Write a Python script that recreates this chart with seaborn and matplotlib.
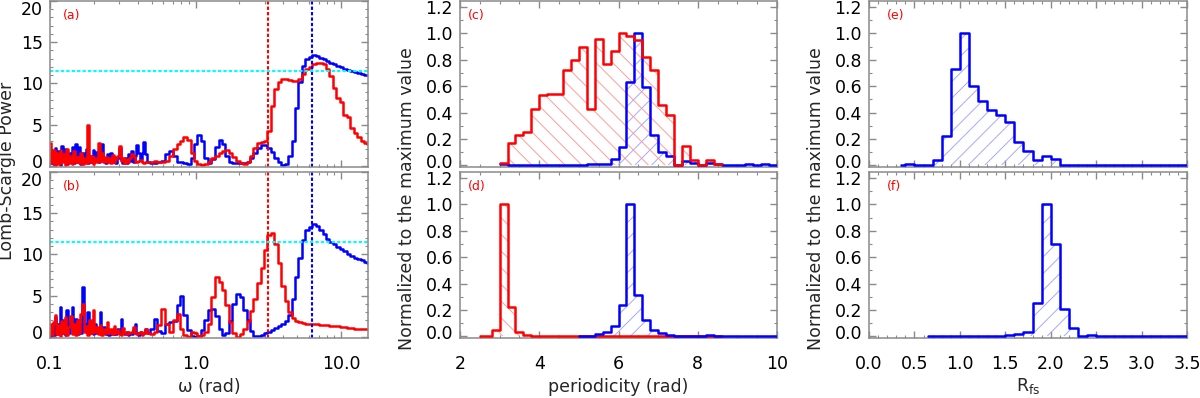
import numpy as np
import matplotlib
matplotlib.use("Agg")
import matplotlib.pyplot as plt
import seaborn as sns
from matplotlib.ticker import (MultipleLocator, FixedLocator, FixedFormatter,
                               LogLocator, NullFormatter, FormatStrFormatter)
from matplotlib.transforms import ScaledTranslation

# ---------------------------------------------------------------- data
omega = [0.100, 0.103, 0.106, 0.109, 0.112, 0.115, 0.118, 0.121, 0.124, 0.128,
         0.131, 0.135, 0.139, 0.143, 0.147, 0.151, 0.155, 0.159, 0.164, 0.168,
         0.173, 0.178, 0.183, 0.188, 0.193, 0.199, 0.204, 0.210, 0.216, 0.222,
         0.228, 0.235, 0.241, 0.248, 0.255, 0.262, 0.270, 0.277, 0.285, 0.293,
         0.301, 0.310, 0.319, 0.328, 0.337, 0.346, 0.356, 0.366, 0.376, 0.387,
         0.398, 0.409, 0.420, 0.432, 0.444, 0.457,
         0.47, 0.50, 0.53, 0.56, 0.60, 0.64, 0.68, 0.72, 0.76, 0.80,
         0.85, 0.90, 0.95, 1.00, 1.06, 1.12, 1.18, 1.25, 1.32, 1.40,
         1.48, 1.56, 1.65, 1.74, 1.84, 1.95, 2.06, 2.18, 2.30, 2.43,
         2.57, 2.72, 2.87, 3.03, 3.20, 3.38, 3.57, 3.77, 3.98, 4.20,
         4.44, 4.69, 4.95, 5.23, 5.52, 5.83, 6.16, 6.50, 6.87, 7.25,
         7.66, 8.09, 8.54, 9.02, 9.53, 10.06, 10.63, 11.22, 11.85, 12.52,
         13.22, 13.96, 14.75, 15.3]

power_a_blue = [0.3, 1.6, 0.2, 2.2, 0.4, 1.8, 0.1, 2.4, 0.6, 2.0,
                0.2, 1.6, 0.8, 2.3, 0.3, 2.7, 0.5, 2.3, 0.2, 1.5,
                0.6, 2.0, 0.3, 1.2, 0.4, 1.9, 0.9, 1.7, 0.5, 1.4,
                2.6, 0.6, 0.3, 1.4, 0.8, 1.6, 0.5, 1.1, 0.3, 1.0,
                2.2, 0.7, 0.3, 1.0, 0.3, 1.4, 0.6, 1.8, 0.5, 1.2,
                2.5, 1.6, 0.8, 1.6, 2.9, 1.4,
                0.5, 0.3, 0.3, 0.4, 0.6, 1.4, 1.8, 1.2, 0.5, 0.5,
                0.3, 0.2, 1.0, 2.6, 3.7, 3.0, 1.0, 0.3, 0.8, 2.3,
                3.15, 2.6, 1.2, 0.5, 0.35, 0.3, 0.3, 0.35, 0.5, 0.9,
                1.5, 2.2, 2.5, 2.55, 2.2, 1.7, 1.0, 0.5, 0.15, 0.2,
                1.2, 3.0, 7.0, 10.2, 12.1, 13.0, 13.25, 13.4, 13.3, 13.1,
                12.9, 12.7, 12.5, 12.3, 12.1, 12.0, 11.8, 11.6, 11.5, 11.4,
                11.3, 11.1, 11.0, 11.0]

power_a_red = [2.8, 0.3, 1.9, 0.1, 1.5, 0.2, 1.9, 0.4, 1.4, 0.1,
               2.0, 0.3, 1.2, 0.2, 1.8, 0.4, 1.1, 0.3, 1.6, 0.2,
               1.0, 0.3, 5.0, 0.4, 1.2, 0.2, 1.0, 0.5, 2.8, 0.6,
               1.5, 0.4, 1.1, 0.5, 0.9, 0.3, 1.3, 0.4, 0.8, 1.2,
               2.4, 0.6, 1.0, 0.3, 0.8, 0.5, 0.9, 1.4, 1.2, 0.5,
               0.4, 0.6, 0.7, 0.4, 0.3, 0.5,
               0.4, 0.5, 0.6, 0.4, 0.5, 0.6, 1.2, 2.0, 2.6, 3.0,
               3.5, 3.1, 1.6, 0.6, 0.2, 0.15, 0.2, 0.5, 0.9, 1.2,
               1.6, 1.85, 1.9, 1.6, 1.1, 0.6, 0.35, 0.2, 0.5, 1.2,
               2.1, 2.8, 2.9, 3.0, 4.2, 7.3, 9.3, 10.2, 10.5, 10.5,
               10.4, 10.3, 10.3, 10.5, 11.1, 11.7, 12.0, 12.3, 12.5, 12.5,
               12.3, 11.7, 10.9, 9.4, 8.2, 7.7, 6.2, 5.9, 4.6, 4.0,
               3.5, 3.0, 2.8, 2.7]

power_b_blue = [0.1, 1.2, 0.2, 2.4, 0.3, 1.6, 3.6, 0.4, 2.0, 0.2,
                3.2, 0.5, 1.8, 3.6, 0.6, 2.2, 0.3, 1.5, 0.4, 6.1,
                0.8, 1.6, 3.0, 0.5, 1.2, 0.3, 1.6, 0.4, 1.0, 3.0,
                0.5, 1.2, 0.3, 0.9, 0.2, 0.8, 0.3, 0.6, 0.3, 1.0,
                0.4, 2.2, 0.5, 0.3, 0.6, 0.2, 0.5, 0.3, 1.0, 1.6,
                0.5, 0.2, 0.6, 0.3, 0.5, 1.0,
                0.4, 1.0, 2.1, 0.7, 0.4, 1.5, 1.8, 1.9, 3.8, 4.9,
                2.6, 0.8, 0.1, 0.0, 0.1, 0.8, 2.0, 3.2, 3.4, 2.5,
                1.0, 0.2, 0.4, 1.9, 4.0, 5.2, 4.8, 3.3, 2.0, 0.7,
                0.1, 0.05, 0.2, 0.4, 0.6, 0.85, 1.05, 1.25, 1.5, 1.9,
                2.7, 4.6, 7.2, 9.6, 11.7, 13.0, 13.3, 13.7, 13.4, 12.9,
                12.5, 11.9, 11.5, 11.2, 10.9, 10.6, 10.4, 10.1, 9.8, 9.6,
                9.4, 9.3, 9.1, 9.0]

power_b_red = [1.5, 0.2, 1.8, 2.7, 0.3, 1.4, 0.1, 1.9, 0.4, 2.4,
               0.2, 1.2, 2.5, 0.3, 1.6, 0.2, 2.0, 0.5, 2.8, 4.0,
               0.6, 1.3, 0.2, 2.0, 0.4, 3.2, 0.6, 1.2, 0.3, 1.4,
               0.2, 0.9, 0.5, 1.8, 0.4, 1.0, 0.3, 1.3, 0.4, 0.8,
               0.3, 0.2, 1.1, 0.4, 0.3, 0.6, 0.4, 0.6, 1.2, 0.5,
               0.3, 0.4, 0.6, 0.2, 0.5, 1.0,
               0.4, 0.3, 0.6, 1.4, 3.4, 1.6, 0.6, 2.0, 2.8, 1.0,
               0.2, 0.0, 0.6, 0.5, 0.05, 0.2, 0.6, 1.5, 4.8, 7.2,
               6.6, 5.7, 3.9, 1.8, 0.4, 0.0, 0.3, 0.9, 1.9, 3.1,
               4.6, 6.5, 8.4, 10.5, 12.3, 12.6, 11.3, 9.0, 6.2, 4.3,
               3.0, 2.3, 1.9, 1.8, 1.7, 1.6, 1.6, 1.55, 1.5, 1.45,
               1.4, 1.4, 1.35, 1.3, 1.25, 1.2, 1.15, 1.1, 1.05, 1.0,
               0.97, 0.93, 0.9, 0.9]

omega_mark_red = np.pi
omega_mark_blue = 2 * np.pi
power_threshold = 11.5

# periodicity histograms (bin edges and normalised heights)
period_edges = [2.5, 2.8, 3.0, 3.2, 3.4, 3.6, 3.8, 4.0, 4.2, 4.4, 4.6, 4.8,
                5.0, 5.2, 5.4, 5.6, 5.8, 6.0, 6.2, 6.4, 6.6, 6.8, 7.0, 7.2,
                7.4, 7.6, 7.8, 8.0, 8.2, 8.4, 8.6, 8.8, 9.0, 9.2, 9.4, 9.6,
                9.8, 10.0]

c_red_edges = period_edges[2:31]
c_red_heights = [0.018, 0.17, 0.23, 0.25, 0.43, 0.53, 0.54, 0.54, 0.72, 0.80,
                 0.90, 0.43, 0.96, 0.77, 0.87, 1.00, 0.98, 0.95, 0.82, 0.72,
                 0.46, 0.38, 0.0, 0.15, 0.04, 0.0, 0.04, 0.01]

c_blue_edges = period_edges[2:]
c_blue_heights = [0.013, 0.002, 0.002, 0.002, 0.004, 0.003, 0.002, 0.002, 0.002, 0.002,
                  0.003, 0.008, 0.008, 0.013, 0.05, 0.14, 0.63, 1.0, 0.59, 0.23,
                  0.10, 0.07, 0.002, 0.03, 0.02, 0.002, 0.02, 0.01, 0.002, 0.002,
                  0.002, 0.01, 0.002, 0.01, 0.002]

d_red_edges = period_edges[0:31]
d_red_heights = [0.003, 0.05, 1.0, 0.22, 0.03, 0.01, 0.005, 0.001, 0.001, 0.001,
                 0.001, 0.001, 0.002, 0.002, 0.001, 0.001, 0.001, 0.002, 0.003, 0.002,
                 0.003, 0.002, 0.001, 0.001, 0.002, 0.001, 0.001, 0.002, 0.001, 0.001]

d_blue_edges = period_edges[12:]
d_blue_heights = [0.002, 0.004, 0.02, 0.03, 0.08, 0.24, 1.0, 0.31, 0.125, 0.045,
                  0.025, 0.01, 0.003, 0.002, 0.002, 0.002, 0.01, 0.002, 0.001, 0.003,
                  0.001, 0.001, 0.001, 0.001, 0.001]

# R_fs histograms
e_edges = [0.35, 0.4, 0.5, 0.6, 0.7, 0.8, 0.9, 1.0, 1.1, 1.2, 1.3, 1.4, 1.5,
           1.6, 1.7, 1.8, 1.9, 2.0, 2.1, 2.2, 2.3, 2.4, 2.5, 2.6, 2.7, 2.8,
           2.9, 3.0, 3.1, 3.2, 3.3, 3.4, 3.5]
e_heights = [0.003, 0.012, 0.006, 0.006, 0.04, 0.22, 0.73, 1.0, 0.60, 0.49,
             0.42, 0.385, 0.33, 0.18, 0.11, 0.04, 0.075, 0.045, 0.003, 0.002,
             0.002, 0.002, 0.002, 0.002, 0.002, 0.002, 0.002, 0.006, 0.006, 0.002,
             0.002, 0.006]

f_edges = [0.65, 0.7, 0.8, 0.9, 1.0, 1.1, 1.2, 1.3, 1.4, 1.5, 1.6, 1.7, 1.8,
           1.9, 2.0, 2.1, 2.2, 2.3, 2.4, 2.5, 2.6, 2.7, 2.8, 2.9, 3.0, 3.1,
           3.2, 3.3, 3.4, 3.5]
f_heights = [0.002, 0.002, 0.002, 0.002, 0.002, 0.002, 0.002, 0.002, 0.005, 0.008,
             0.015, 0.03, 0.25, 1.0, 0.70, 0.21, 0.065, 0.005, 0.01, 0.005,
             0.005, 0.002, 0.002, 0.001, 0.001, 0.001, 0.001, 0.001, 0.001]

log_ticks = [0.1, 1.0, 10.0]
log_tick_labels = ["0.1", "1.0", "10.0"]
power_ticks = [0, 5, 10, 15, 20]
norm_ticks = [0.0, 0.2, 0.4, 0.6, 0.8, 1.0, 1.2]

# ---------------------------------------------------------------- style
sns.set_theme(style="ticks")
plt.rcParams["font.family"] = ["DejaVu Sans"]
plt.rcParams["hatch.linewidth"] = 0.7
plt.rcParams["axes.facecolor"] = "white"

RED = "#ff0000"
BLUE = "#0000ff"
CYAN = "#00ffff"
RED_HATCH = "#ff9c9c"
BLUE_HATCH = "#a8a8ff"
SPINE = "#8a8a8a"
LW = 1.8
FS = 12.5

W, H = 1200, 398
fig = plt.figure(figsize=(12, 3.98), dpi=100)


def add_ax(x0, x1, y0, y1):
    return fig.add_axes([x0 / W, 1 - y1 / H, (x1 - x0) / W, (y1 - y0) / H])


cols = [(50, 368), (460, 777), (869, 1187)]
rows = [(1, 167), (172, 338)]
axes = {}
for name, (c, r) in zip("abcdef", [(0, 0), (0, 1), (1, 0), (1, 1), (2, 0), (2, 1)]):
    axes[name] = add_ax(cols[c][0], cols[c][1], rows[r][0], rows[r][1])


def style(ax):
    for s in ax.spines.values():
        s.set_color(SPINE)
        s.set_linewidth(1.1)
    ax.tick_params(which="both", direction="in", top=True, right=True,
                   color=SPINE, labelsize=FS, labelcolor="black")
    ax.tick_params(which="major", length=5, width=1.0)
    ax.tick_params(which="minor", length=2.5, width=0.8)
    ax.tick_params(axis="x", pad=12)
    ax.tick_params(axis="y", pad=5)
    ax.set_xlabel("")
    ax.set_ylabel("")


def shift_end_labels(ax, up_bottom, down_top):
    ticks = ax.yaxis.get_major_ticks()
    lab0 = ticks[0].label1
    lab0.set_transform(lab0.get_transform() +
                       ScaledTranslation(0, up_bottom / 100, fig.dpi_scale_trans))
    lab1 = ticks[-1].label1
    lab1.set_transform(lab1.get_transform() +
                       ScaledTranslation(0, -down_top / 100, fig.dpi_scale_trans))


# ---------------------------------------------------------------- periodograms
for name, pb, pr in [("a", power_a_blue, power_a_red), ("b", power_b_blue, power_b_red)]:
    ax = axes[name]
    ax.set_xscale("log")
    sns.lineplot(x=omega, y=pb, ax=ax, color=BLUE, linewidth=LW,
                 drawstyle="steps-mid", estimator=None, errorbar=None)
    sns.lineplot(x=omega, y=pr, ax=ax, color=RED, linewidth=LW,
                 drawstyle="steps-mid", estimator=None, errorbar=None)
    ax.axvline(omega_mark_red, color=RED, lw=1.5, ls=(0, (1.6, 1.0)))
    ax.axvline(omega_mark_blue, color=BLUE, lw=1.5, ls=(0, (1.6, 1.0)))
    ax.axhline(power_threshold, color=CYAN, lw=1.5, ls=(0, (1.6, 1.0)))
    ax.set_xlim(0.1, 15.3)
    ax.set_ylim(-0.15, 20)
    ax.xaxis.set_major_locator(FixedLocator(log_ticks))
    ax.xaxis.set_minor_locator(LogLocator(base=10, subs=np.arange(2, 10)))
    ax.xaxis.set_minor_formatter(NullFormatter())
    ax.yaxis.set_major_locator(FixedLocator(power_ticks))
    ax.yaxis.set_minor_locator(MultipleLocator(1))
    style(ax)
    if name == "b":
        ax.xaxis.set_major_formatter(FixedFormatter(log_tick_labels))
    else:
        ax.xaxis.set_major_formatter(NullFormatter())
    shift_end_labels(ax, 5, 7)


# ---------------------------------------------------------------- histograms
def hist(ax, edges, heights, color, hatch_color, hatch):
    edges = np.asarray(edges, float)
    heights = np.asarray(heights, float)
    centers = 0.5 * (edges[:-1] + edges[1:])
    ax.fill_between(edges, np.append(heights, heights[-1]), step="post",
                    facecolor="none", edgecolor=hatch_color, hatch=hatch,
                    linewidth=0, zorder=1)
    sns.histplot(x=centers, weights=heights, bins=list(edges), element="step",
                 fill=False, color=color, linewidth=LW, ax=ax, zorder=3)


hist(axes["c"], c_blue_edges, c_blue_heights, BLUE, BLUE_HATCH, "//")
hist(axes["c"], c_red_edges, c_red_heights, RED, RED_HATCH, "\\\\")
hist(axes["d"], d_red_edges, d_red_heights, RED, RED_HATCH, "\\\\")
hist(axes["d"], d_blue_edges, d_blue_heights, BLUE, BLUE_HATCH, "//")
hist(axes["e"], e_edges, e_heights, BLUE, BLUE_HATCH, "//")
hist(axes["f"], f_edges, f_heights, BLUE, BLUE_HATCH, "//")

for name in "cdef":
    ax = axes[name]
    ax.set_ylim(-0.012, 1.245)
    ax.yaxis.set_major_locator(FixedLocator(norm_ticks))
    ax.yaxis.set_minor_locator(MultipleLocator(0.1))
    ax.yaxis.set_major_formatter(FormatStrFormatter("%.1f"))
    if name in "cd":
        ax.set_xlim(2, 10)
        ax.xaxis.set_major_locator(MultipleLocator(2))
        ax.xaxis.set_minor_locator(MultipleLocator(0.5))
        ax.xaxis.set_major_formatter(FormatStrFormatter("%d"))
    else:
        ax.set_xlim(0, 3.5)
        ax.xaxis.set_major_locator(MultipleLocator(0.5))
        ax.xaxis.set_minor_locator(MultipleLocator(0.1))
        ax.xaxis.set_major_formatter(FormatStrFormatter("%.1f"))
    style(ax)
    if name in "ce":
        ax.xaxis.set_major_formatter(NullFormatter())
    shift_end_labels(ax, 4, 0)

# ---------------------------------------------------------------- panel letters
letter_pos = {"a": 0.04, "b": 0.04, "c": 0.025, "d": 0.025, "e": 0.057, "f": 0.057}
for name, xp in letter_pos.items():
    axes[name].text(xp, 0.915, f"({name})", transform=axes[name].transAxes,
                    color=RED, fontsize=9, ha="left", va="center")

# ---------------------------------------------------------------- axis titles
fig.text(7 / W, 1 - 171 / H, "Lomb-Scargle Power", rotation=90,
         ha="center", va="center", fontsize=FS)
fig.text(407 / W, 1 - 199 / H, "Normalized to the maximum value", rotation=90,
         ha="center", va="center", fontsize=FS)
fig.text(816 / W, 1 - 199 / H, "Normalized to the maximum value", rotation=90,
         ha="center", va="center", fontsize=FS)
fig.text(209 / W, 1 - 387 / H, "ω (rad)", ha="center", va="center", fontsize=FS)
fig.text(618 / W, 1 - 387 / H, "periodicity (rad)", ha="center", va="center", fontsize=FS)
fig.text(1028 / W, 1 - 386 / H, r"R$_{\rm fs}$", ha="center", va="center", fontsize=FS)

fig.savefig("out.png", dpi=100, facecolor="white")
